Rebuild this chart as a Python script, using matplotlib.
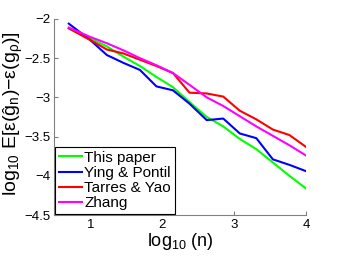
import matplotlib
matplotlib.use('Agg')
import matplotlib.pyplot as plt
import numpy as np

plt.rcParams['font.family'] = ['Liberation Sans', 'DejaVu Sans']
plt.rcParams['mathtext.default'] = 'regular'

# log10(n) sample points
log_n = [0.70, 1.00, 1.23, 1.46, 1.69, 1.92, 2.15, 2.38, 2.62, 2.85, 3.08, 3.31, 3.54, 3.77, 4.00]

this_paper = [-2.12, -2.25, -2.35, -2.48, -2.60, -2.74, -2.87, -3.06, -3.25, -3.37, -3.53, -3.66, -3.83, -4.00, -4.16]
ying_pontil = [-2.06, -2.27, -2.46, -2.56, -2.65, -2.86, -2.91, -3.08, -3.29, -3.27, -3.46, -3.52, -3.79, -3.86, -3.94]
tarres_yao = [-2.12, -2.27, -2.39, -2.44, -2.52, -2.60, -2.69, -2.94, -2.95, -2.99, -3.17, -3.28, -3.41, -3.48, -3.63]
zhang = [-2.11, -2.23, -2.31, -2.40, -2.50, -2.59, -2.69, -2.84, -3.00, -3.11, -3.24, -3.37, -3.49, -3.61, -3.74]

labels = ['This paper', 'Ying & Pontil', 'Tarres & Yao', 'Zhang']
colors = ['#00ff00', '#0000ff', '#ff0000', '#ff00ff']
series = [this_paper, ying_pontil, tarres_yao, zhang]

fig = plt.figure(figsize=(3.38, 2.56), dpi=100)
ax = fig.add_axes([0.161, 0.160, 0.744, 0.766])

for ys, c, lab in zip(series, colors, labels):
    ax.plot(log_n, ys, color=c, linewidth=1.5, label=lab)

ax.set_xlim(0.5, 4)
ax.set_ylim(-4.5, -2)
ax.set_xticks([1, 2, 3, 4])
ax.set_yticks([-4.5, -4, -3.5, -3, -2.5, -2])
ax.set_yticklabels(['\u22124.5', '\u22124', '\u22123.5', '\u22123', '\u22122.5', '\u22122'])
ax.tick_params(direction='in', length=3, labelsize=9.5, pad=2.5, colors='#808080', labelcolor='black')
for s in ['top', 'right']:
    ax.spines[s].set_visible(False)
for s in ['left', 'bottom']:
    ax.spines[s].set_color('#808080')

ax.set_xlabel('log$_{10}$ (n)', fontsize=13, labelpad=0)
ax.set_ylabel('log$_{10}$ E[\u03b5(\u011d$_n$)\u2212\u03b5(g$_\u03c1$)]', fontsize=14)
ax.yaxis.set_label_coords(-0.118, 0.52)

leg = ax.legend(loc='lower left', bbox_to_anchor=(0.004, 0.004), fontsize=11,
                frameon=True, fancybox=False, edgecolor='black', framealpha=1,
                handlelength=1.5, handletextpad=0.15, labelspacing=0.08, borderpad=0.25,
                borderaxespad=0)
leg.get_frame().set_linewidth(0.8)

plt.savefig('out.png', dpi=100)
